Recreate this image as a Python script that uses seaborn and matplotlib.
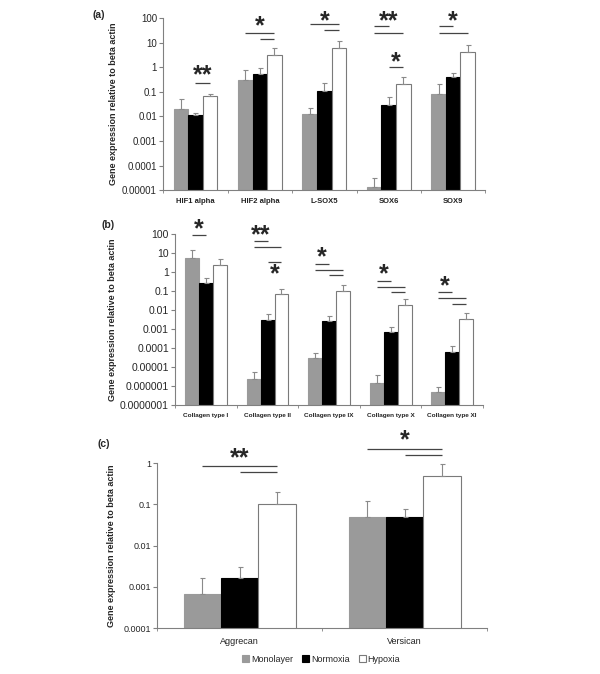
import numpy as np
import pandas as pd
import matplotlib
matplotlib.use("Agg")
import matplotlib.pyplot as plt
import seaborn as sns
from matplotlib.patches import Patch
from matplotlib.ticker import FixedLocator, FuncFormatter, LogLocator, NullLocator

# ---- data ----
conditions = ["Monolayer", "Normoxia", "Hypoxia"]

genes_a = ["HIF1 alpha", "HIF2 alpha", "L-SOX5", "SOX6", "SOX9"]
mono_a = [0.02, 0.3, 0.012, 0.000013, 0.085]
norm_a = [0.011, 0.55, 0.11, 0.03, 0.42]
hyp_a = [0.065, 3.2, 6.0, 0.21, 4.3]
mono_a_sd = [0.03, 0.45, 0.011, 0.000017, 0.125]
norm_a_sd = [0.003, 0.35, 0.11, 0.03, 0.18]
hyp_a_sd = [0.02, 2.8, 6.0, 0.21, 3.7]

genes_b = ["Collagen type I", "Collagen type II", "Collagen type IX",
           "Collagen type X", "Collagen type XI"]
mono_b = [5.5, 2.3e-6, 2.9e-5, 1.4e-6, 4.8e-7]
norm_b = [0.25, 0.003, 0.0025, 0.0007, 6.4e-5]
hyp_b = [2.3, 0.07, 0.1, 0.018, 0.0032]
mono_b_sd = [9.5, 2.9e-6, 2.3e-5, 2.4e-6, 4.2e-7]
norm_b_sd = [0.25, 0.0029, 0.0024, 0.0005, 6.6e-5]
hyp_b_sd = [2.3, 0.06, 0.1, 0.018, 0.0034]

genes_c = ["Aggrecan", "Versican"]
mono_c = [0.00068, 0.049]
norm_c = [0.0016, 0.05]
hyp_c = [0.1, 0.49]
mono_c_sd = [0.001, 0.07]
norm_c_sd = [0.0015, 0.025]
hyp_c_sd = [0.1, 0.44]

# significance lines: (category, group from, group to, height)
# stars: (category, group from, group to, height of star centre, text)
lines_a = [(0, 1, 2, 0.22), (1, 0, 2, 25), (1, 1, 2, 14), (2, 0, 2, 57), (2, 1, 2, 33),
           (3, 0, 1, 48), (3, 0, 2, 25), (3, 1, 2, 1.0), (4, 0, 1, 48), (4, 0, 2, 25)]
stars_a = [(0, 1, 2, 0.65, "**"), (1, 0, 2, 62, "*"), (2, 0, 2, 100, "*"),
           (3, 0, 2, 100, "**"), (3, 1, 2, 2.3, "*"), (4, 0, 2, 100, "*")]
lines_b = [(0, 0, 1, 88), (1, 0, 1, 43), (1, 0, 2, 20), (1, 1, 2, 3.5),
           (2, 0, 1, 2.6), (2, 0, 2, 1.3), (2, 1, 2, 0.65),
           (3, 0, 1, 0.35), (3, 0, 2, 0.17), (3, 1, 2, 0.09),
           (4, 0, 1, 0.085), (4, 0, 2, 0.042), (4, 1, 2, 0.021)]
stars_b = [(0, 0, 1, 265, "*"), (1, 0, 1, 130, "**"), (1, 1, 2, 1.1, "*"),
           (2, 0, 1, 8.5, "*"), (3, 0, 1, 1.1, "*"), (4, 0, 1, 0.27, "*")]
lines_c = [(0, 0, 2, 0.83), (0, 1, 2, 0.59), (1, 0, 2, 2.2), (1, 1, 2, 1.6)]
stars_c = [(0, 0, 2, 1.6, "**"), (1, 0, 2, 4.3, "*")]

palette = {"Monolayer": "#9a9a9a", "Normoxia": "#000000", "Hypoxia": "#ffffff"}
edges = {"Monolayer": "#9a9a9a", "Normoxia": "#000000", "Hypoxia": "#7a7a7a"}

sns.set_style("ticks")
plt.rcParams["font.family"] = ["Liberation Sans", "DejaVu Sans"]

STAR_FS = 18


def make_frame(genes, mono, norm, hyp, mono_sd, norm_sd, hyp_sd):
    rows = []
    for cond, vals, sds in zip(conditions, [mono, norm, hyp], [mono_sd, norm_sd, hyp_sd]):
        for g, v, s in zip(genes, vals, sds):
            rows.append({"gene": g, "condition": cond, "value": v, "sd": s})
    return pd.DataFrame(rows)


def dec_label(v, pos):
    return np.format_float_positional(v, trim="-")


def panel(ax, df, genes, ylim, lines, stars, tag, tag_xy, tick_fs, xtick_fs, label_fs,
          label_x, xbold=True):
    sns.barplot(data=df, x="gene", y="value", hue="condition", order=genes,
                hue_order=conditions, palette=palette, errorbar=None,
                width=0.68, legend=False, ax=ax, saturation=1)
    ax.set_yscale("log")
    centers = {}
    bar_groups = list(ax.containers)
    for h, cont in enumerate(bar_groups):
        cond = conditions[h]
        sub = df[df.condition == cond].set_index("gene").loc[genes]
        xs = []
        for i, bar in enumerate(cont):
            bar.set_edgecolor(edges[cond])
            bar.set_linewidth(0.8)
            xs.append(bar.get_x() + bar.get_width() / 2)
            centers[(i, h)] = xs[-1]
        ax.errorbar(xs, sub["value"].values,
                    yerr=[np.zeros(len(xs)), sub["sd"].values],
                    fmt="none", ecolor="#8a8a8a", elinewidth=0.8, capsize=1.8,
                    capthick=0.8, zorder=1)
    for cat, g1, g2, y in lines:
        ax.plot([centers[(cat, g1)], centers[(cat, g2)]], [y, y], color="#444444",
                lw=0.9, clip_on=False, solid_capstyle="butt")
    for cat, g1, g2, y, txt in stars:
        xm = (centers[(cat, g1)] + centers[(cat, g2)]) / 2
        # baseline shifted down so the glyph centre sits on y
        ax.annotate(txt, xy=(xm, y), xytext=(0, -0.42 * STAR_FS), textcoords="offset points",
                    ha="center", va="baseline", fontsize=STAR_FS, fontweight="bold",
                    annotation_clip=False)
    ax.set_ylim(*ylim)
    ax.set_xlim(-0.5, len(genes) - 0.5)
    ax.yaxis.set_major_locator(LogLocator(base=10, numticks=20))
    ax.yaxis.set_minor_locator(NullLocator())
    ax.yaxis.set_major_formatter(FuncFormatter(dec_label))
    ax.xaxis.set_minor_locator(FixedLocator(np.arange(len(genes) + 1) - 0.5))
    ax.tick_params(axis="x", which="major", length=0, labelsize=xtick_fs, pad=6)
    ax.tick_params(axis="x", which="minor", length=2, color="#808080", width=0.6)
    ax.tick_params(axis="y", length=3, color="#808080", width=0.8, labelsize=tick_fs, pad=1.5)
    for lab in ax.get_xticklabels():
        lab.set_fontweight("bold" if xbold else "normal")
        lab.set_color("#222222")
    sns.despine(ax=ax)
    for s in ["left", "bottom"]:
        ax.spines[s].set_color("#808080")
        ax.spines[s].set_linewidth(0.8)
    ax.set_xlabel("")
    ax.set_ylabel("Gene expression relative to beta actin", fontsize=label_fs,
                  fontweight="bold")
    ax.yaxis.set_label_coords(label_x, 0.5)
    ax.text(tag_xy[0], tag_xy[1], tag, transform=ax.transAxes, fontsize=7.5,
            fontweight="bold", ha="left", va="bottom")


fig = plt.figure(figsize=(6, 6.74), dpi=100)
ax_a = fig.add_axes([0.272, 0.718, 0.537, 0.255])
ax_b = fig.add_axes([0.292, 0.399, 0.513, 0.254])
ax_c = fig.add_axes([0.262, 0.068, 0.550, 0.245])

df_a = make_frame(genes_a, mono_a, norm_a, hyp_a, mono_a_sd, norm_a_sd, hyp_a_sd)
df_b = make_frame(genes_b, mono_b, norm_b, hyp_b, mono_b_sd, norm_b_sd, hyp_b_sd)
df_c = make_frame(genes_c, mono_c, norm_c, hyp_c, mono_c_sd, norm_c_sd, hyp_c_sd)

panel(ax_a, df_a, genes_a, (1e-5, 100), lines_a, stars_a, "(a)", (-0.22, 0.99),
      7, 5.5, 6.5, -0.14)
panel(ax_b, df_b, genes_b, (1e-7, 100), lines_b, stars_b, "(b)", (-0.24, 1.02),
      7.5, 4.6, 6.5, -0.19)
panel(ax_c, df_c, genes_c, (1e-4, 1), lines_c, stars_c, "(c)", (-0.18, 1.085),
      6.5, 6.5, 6.5, -0.125, xbold=False)

handles = [Patch(facecolor=palette[c], edgecolor=edges[c], linewidth=0.8, label=c)
           for c in conditions]
fig.legend(handles=handles, loc="center", bbox_to_anchor=(0.535, 1 - 659 / 674),
           ncol=3, frameon=False, fontsize=6.5, handlelength=0.8, handleheight=0.8,
           handletextpad=0.2, columnspacing=1.0)

fig.savefig("out.png", dpi=100)
